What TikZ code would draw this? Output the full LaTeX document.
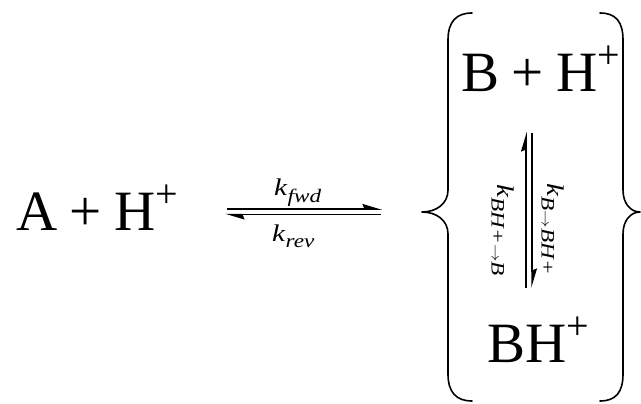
\documentclass[tikz,border=0pt]{standalone}
\usepackage{fontspec}
\setmainfont{Liberation Serif}
\usetikzlibrary{arrows.meta}

% spacing around the plus signs and the raised charge
\newcommand\opgap{\hspace{12.5pt}}
\newcommand\supplus{\raisebox{23pt}{\fontsize{40}{40}\selectfont +}}
% rate constant: italic k with a lowered subscript
\newcommand\rate[2]{\textit{#1}\raisebox{-6pt}{\fontsize{19}{19}\selectfont\textit{#2}}}
\newcommand\toarrow{{\fontsize{14}{14}\selectfont$\rightarrow$}}

\begin{document}
\begin{tikzpicture}[x=1pt,y=-1pt,
  species/.style={inner sep=0pt, font=\fontsize{57}{57}\selectfont},
  ratelabel/.style={inner sep=0pt, font=\fontsize{24}{24}\selectfont, xscale=1.22},
  brace/.style={line width=1.6pt, line cap=round, line join=round},
  shaft/.style={line width=1.5pt, -{Stealth[harpoon, length=17pt, width=10pt, inset=2pt]}}
]
\useasboundingbox (0,0) rectangle (641,404);

% species
\node[species, anchor=base west] (A)  at (16,230)  {A\opgap+\opgap H\supplus};
\node[species, anchor=base west] (B)  at (461,92)  {B\opgap+\opgap H\supplus};
\node[species, anchor=base west] (BH) at (487,362) {BH\supplus};

% forward / reverse equilibrium harpoons
\coordinate (fwdS) at (227,209);   \coordinate (fwdE) at (382,209);
\coordinate (revS) at (381,214.5); \coordinate (revE) at (225,214.5);
\draw[shaft] (fwdS) -- (fwdE);
\draw[shaft] (revS) -- (revE);

\node[ratelabel, anchor=base west] (kf) at (274,196) {\rate{k}{fwd}};
\node[ratelabel, anchor=base west] (kr) at (272,241) {\rate{k}{rev}};

% protonation equilibrium inside the braces
\coordinate (upS) at (526,288); \coordinate (upE) at (526,132);
\coordinate (dnS) at (532,133); \coordinate (dnE) at (532,288);
\draw[shaft] (upS) -- (upE);
\draw[shaft] (dnS) -- (dnE);

\node[rotate=-90, ratelabel] (kbhb) at (503,230) {\rate{k}{BH+\toarrow B}};
\node[rotate=-90, ratelabel] (kbbh) at (553,229) {\rate{k}{B\toarrow BH+}};

% curly braces
\draw[brace] (472,13) .. controls (456,13) and (448,22) .. (448,40)
  -- (448,190) .. controls (448,204) and (436,212) .. (422,212)
  .. controls (436,212) and (448,220) .. (448,234)
  -- (448,374) .. controls (448,392) and (456,401) .. (472,401);
\draw[brace] (600,13) .. controls (616,13) and (623,22) .. (623,40)
  -- (623,190) .. controls (623,204) and (631,212) .. (640,212)
  .. controls (631,212) and (623,220) .. (623,234)
  -- (623,374) .. controls (623,392) and (616,401) .. (600,401);
\end{tikzpicture}
\end{document}
